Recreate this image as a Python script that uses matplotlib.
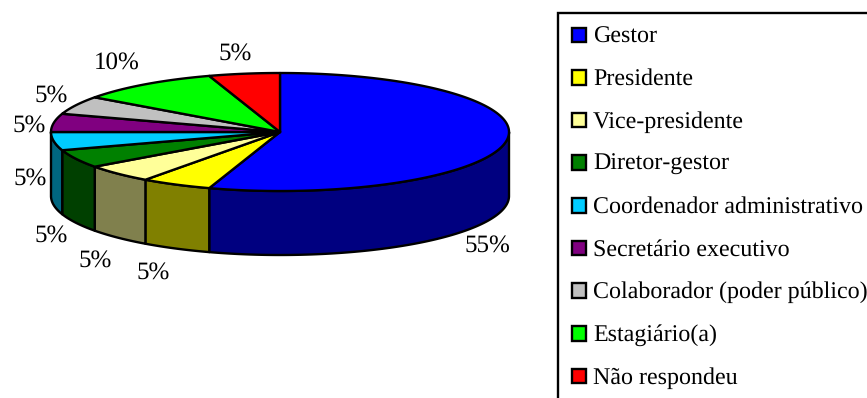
import numpy as np
import matplotlib
matplotlib.use("Agg")
import matplotlib.pyplot as plt
from matplotlib.patches import Polygon, Rectangle

categories = ["Gestor", "Presidente", "Vice-presidente", "Diretor-gestor",
              "Coordenador administrativo", "Secretário executivo",
              "Colaborador (poder público)", "Estagiário(a)", "Não respondeu"]
shares = [55, 5, 5, 5, 5, 5, 5, 10, 5]
top_colors = ["#0000FF", "#FFFF00", "#FFFF99", "#008000", "#00CCFF",
              "#800080", "#C0C0C0", "#00FF00", "#FF0000"]
side_colors = ["#000080", "#808000", "#80804D", "#004000", "#006680",
               "#400040", "#606060", "#008000", "#800000"]

# pie geometry, in pixels of the canvas
CX, CY, RX, RY, DEPTH = 280.0, 132.0, 229.0, 59.0, 64.0
LINE = 1.7
LEGEND_FONT = 17.2
LABEL_FONT = 17.8
# baseline positions of the percentage labels
label_xy = [(487, 252), (153, 279), (95, 267), (51, 242), (30, 185),
            (29, 132), (51, 102), (117, 69), (235, 60)]

plt.rcParams["font.family"] = ["Liberation Serif", "DejaVu Serif"]
plt.rcParams["text.hinting"] = "no_hinting"
plt.rcParams["text.hinting_factor"] = 1
fig = plt.figure(figsize=(8.67, 3.98), dpi=100)
ax = fig.add_axes([0, 0, 1, 1])
ax.set_xlim(0, 867)
ax.set_ylim(398, 0)
ax.axis("off")


def rim(t0, t1, drop=0.0):
    # points on the pie's rim; angles run clockwise from the top, in degrees
    n = max(int(abs(t1 - t0)) * 2, 2)
    t = np.radians(np.linspace(t0, t1, n))
    return np.column_stack([CX + RX * np.sin(t), CY - RY * np.cos(t) + drop])


edges = np.concatenate([[0], np.cumsum(shares)]) * 360.0 / sum(shares)

# outer wall: only the front half of the rim faces the viewer
for start, end, col in zip(edges[:-1], edges[1:], side_colors):
    a, b = max(start, 90), min(end, 270)
    if a >= b:
        continue
    pts = np.vstack([rim(a, b), rim(b, a, DEPTH)])
    ax.add_patch(Polygon(pts, closed=True, fc=col, ec="black", lw=LINE,
                         joinstyle="round", zorder=2))

# top face
for start, end, col in zip(edges[:-1], edges[1:], top_colors):
    pts = np.vstack([[[CX, CY]], rim(start, end)])
    ax.add_patch(Polygon(pts, closed=True, fc=col, ec="black", lw=LINE,
                         joinstyle="round", zorder=3))

for value, (x, y) in zip(shares, label_xy):
    ax.text(x, y, f"{value}%", ha="center", va="baseline", fontsize=LABEL_FONT,
            color="black", zorder=4)

# legend box runs past the right and lower edges of the canvas
ax.add_patch(Rectangle((558, 13), 340, 420, fc="white", ec="black", lw=LINE,
                       zorder=1))
ROW_START = 35.0
ROW_STEP = 42.65
for i, (name, col) in enumerate(zip(categories, top_colors)):
    y = ROW_START + i * ROW_STEP
    ax.add_patch(Rectangle((571.5, y - 7.5), 14.5, 14.5, fc=col, ec="black",
                           lw=LINE, zorder=3))
    ax.text(593, y + 7.3, name, ha="left", va="baseline", fontsize=LEGEND_FONT,
            color="black", zorder=4)

fig.savefig("out.png", dpi=100, facecolor="white")
